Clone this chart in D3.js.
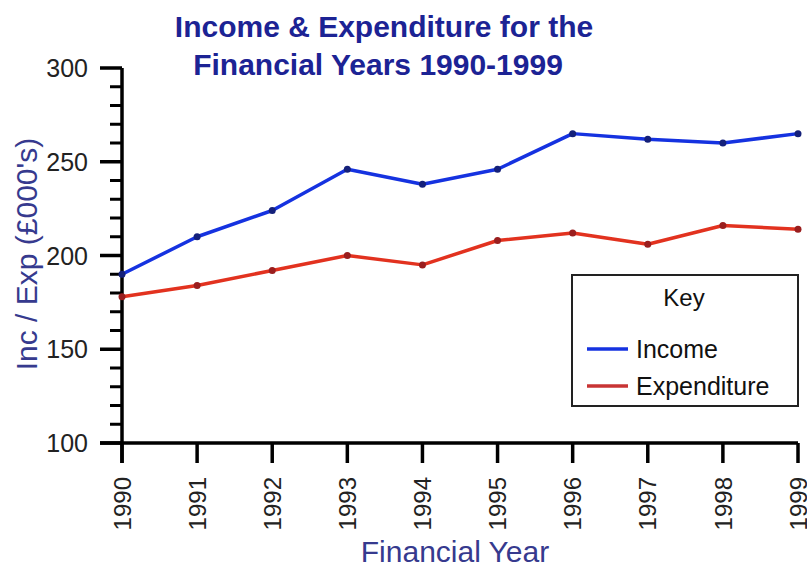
<!DOCTYPE html>
<html>
<head>
<meta charset="utf-8">
<script src="https://cdn.jsdelivr.net/npm/d3@7"></script>
<style>
  html, body { margin: 0; padding: 0; background: #fff; }
  svg { display: block; font-family: "Liberation Sans", Arial, sans-serif; }
</style>
</head>
<body>
<svg id="chart" width="807" height="570"></svg>
<script>
// Financial years and yearly totals in £000's
const years = [1990, 1991, 1992, 1993, 1994, 1995, 1996, 1997, 1998, 1999];
const income = [190, 210, 224, 246, 238, 246, 265, 262, 260, 265];
const expenditure = [178, 184, 192, 200, 195, 208, 212, 206, 216, 214];
const yTicks = [100, 150, 200, 250, 300];
const seriesNames = ["Income", "Expenditure"];

const svg = d3.select("#chart");
const plotLeft = 122, plotRight = 798, plotTop = 68, plotBottom = 443;

const x = d3.scaleLinear().domain([1990, 1999]).range([plotLeft, plotRight]);
const y = d3.scaleLinear().domain([100, 300]).range([plotBottom, plotTop]);

const titleColor = "#1c2394";
const labelColor = "#363a8e";
const incomeColor = "#1532e0";
const expColor = "#e2321f";

// Title
const title = svg.append("text")
  .attr("text-anchor", "middle")
  .attr("font-size", 30).attr("font-weight", "bold")
  .attr("fill", titleColor);
title.append("tspan").attr("x", 384).attr("y", 37).text("Income & Expenditure for the");
title.append("tspan").attr("x", 378).attr("y", 75).text("Financial Years 1990-1999");

// Y axis: major ticks every 50, minor every 10
const yAxis = svg.append("g").attr("transform", `translate(${plotLeft},0)`);
yAxis.append("line")
  .attr("x1", 0).attr("x2", 0).attr("y1", plotTop).attr("y2", plotBottom + 20)
  .attr("stroke", "#000").attr("stroke-width", 3.5);
yAxis.selectAll("line.minor")
  .data(d3.range(100, 301, 10).filter(v => v % 50 !== 0))
  .join("line").attr("class", "minor")
  .attr("x1", -12).attr("x2", 0)
  .attr("y1", d => y(d)).attr("y2", d => y(d))
  .attr("stroke", "#000").attr("stroke-width", 3);
yAxis.selectAll("line.major")
  .data(yTicks)
  .join("line").attr("class", "major")
  .attr("x1", -22).attr("x2", 0)
  .attr("y1", d => y(d)).attr("y2", d => y(d))
  .attr("stroke", "#000").attr("stroke-width", 3.5);
yAxis.selectAll("text")
  .data(yTicks)
  .join("text")
  .attr("x", -34).attr("y", d => y(d)).attr("dy", "0.36em")
  .attr("text-anchor", "end").attr("font-size", 25).attr("fill", "#222")
  .text(d => d);

// X axis
const xAxis = svg.append("g").attr("transform", `translate(0,${plotBottom})`);
xAxis.append("line")
  .attr("x1", plotLeft - 22).attr("x2", plotRight).attr("y1", 0).attr("y2", 0)
  .attr("stroke", "#000").attr("stroke-width", 3.5);
xAxis.selectAll("line.tick")
  .data(years)
  .join("line").attr("class", "tick")
  .attr("x1", d => x(d)).attr("x2", d => x(d)).attr("y1", 0).attr("y2", 20)
  .attr("stroke", "#000").attr("stroke-width", 3.5);
xAxis.selectAll("text")
  .data(years)
  .join("text")
  .attr("transform", d => `translate(${x(d)},34) rotate(-90)`)
  .attr("dy", "0.36em").attr("text-anchor", "end")
  .attr("font-size", 24).attr("fill", "#222")
  .text(d => d);

// Axis titles
svg.append("text")
  .attr("transform", "translate(37,254) rotate(-90)")
  .attr("text-anchor", "middle").attr("font-size", 30).attr("fill", labelColor)
  .text("Inc / Exp (£000's)");
svg.append("text")
  .attr("x", 455).attr("y", 562)
  .attr("text-anchor", "middle").attr("font-size", 30).attr("fill", labelColor)
  .text("Financial Year");

// Series lines with point markers
const series = [
  { name: seriesNames[0], values: income, color: incomeColor, marker: "#14207a" },
  { name: seriesNames[1], values: expenditure, color: expColor, marker: "#9a1e1e" }
];
const line = d3.line().x((d, i) => x(years[i])).y(d => y(d));
series.forEach(s => {
  svg.append("path")
    .attr("d", line(s.values))
    .attr("fill", "none").attr("stroke", s.color)
    .attr("stroke-width", 3.5).attr("stroke-linejoin", "round");
  svg.append("g").selectAll("circle")
    .data(s.values)
    .join("circle")
    .attr("cx", (d, i) => x(years[i])).attr("cy", d => y(d))
    .attr("r", 3.5).attr("fill", s.marker);
});

// Legend
const legend = svg.append("g");
legend.append("rect")
  .attr("x", 572).attr("y", 275).attr("width", 226).attr("height", 131)
  .attr("fill", "#fff").attr("stroke", "#222").attr("stroke-width", 2);
legend.append("text")
  .attr("x", 684).attr("y", 306).attr("text-anchor", "middle")
  .attr("font-size", 24).attr("fill", "#111").text("Key");
const legendColors = [incomeColor, "#c83434"];
seriesNames.forEach((name, i) => {
  const ly = 349 + i * 37;
  legend.append("line")
    .attr("x1", 587).attr("x2", 628).attr("y1", ly).attr("y2", ly)
    .attr("stroke", legendColors[i]).attr("stroke-width", 3.5);
  legend.append("text")
    .attr("x", 636).attr("y", ly).attr("dy", "0.36em")
    .attr("font-size", 25).attr("fill", "#111").text(name);
});
</script>
</body>
</html>
